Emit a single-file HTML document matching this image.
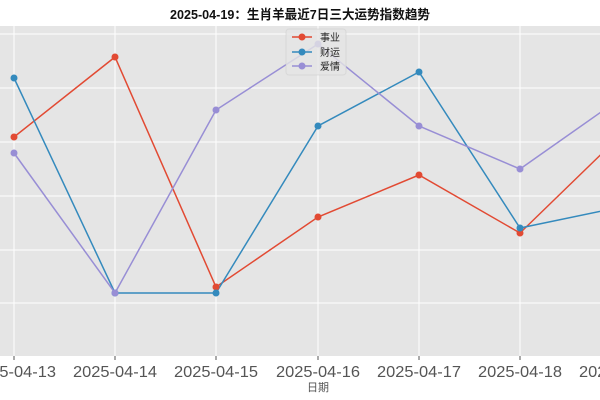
<!DOCTYPE html>
<html><head><meta charset="utf-8"><style>
html,body{margin:0;padding:0;background:#fff;width:600px;height:400px;overflow:hidden}
</style></head><body>
<svg width="600" height="400" viewBox="0 0 600 400" xmlns="http://www.w3.org/2000/svg" font-family="Liberation Sans, Noto Sans CJK SC, sans-serif">
<rect x="0" y="0" width="600" height="400" fill="#fff"/>
<rect x="0" y="26" width="600" height="330" fill="#e5e5e5"/>
<g stroke="#fff" stroke-width="1">
<line x1="0" x2="600" y1="34" y2="34"/><line x1="0" x2="600" y1="88" y2="88"/>
<line x1="0" x2="600" y1="142" y2="142"/><line x1="0" x2="600" y1="196" y2="196"/>
<line x1="0" x2="600" y1="250" y2="250"/><line x1="0" x2="600" y1="303" y2="303"/>
<line x1="14" x2="14" y1="26" y2="356"/><line x1="115" x2="115" y1="26" y2="356"/>
<line x1="216" x2="216" y1="26" y2="356"/><line x1="318" x2="318" y1="26" y2="356"/>
<line x1="419" x2="419" y1="26" y2="356"/><line x1="520" x2="520" y1="26" y2="356"/>
</g>
<g stroke="#555" stroke-width="1">
<line x1="14" x2="14" y1="356" y2="360"/><line x1="115" x2="115" y1="356" y2="360"/>
<line x1="216" x2="216" y1="356" y2="360"/><line x1="318" x2="318" y1="356" y2="360"/>
<line x1="419" x2="419" y1="356" y2="360"/><line x1="520" x2="520" y1="356" y2="360"/>
</g>
<g fill="none" stroke-width="1.5">
<polyline stroke="#E24A33" points="14,137 115,57 216,287 318,217 419,175 520,233 621,135"/>
<polyline stroke="#348ABD" points="14,78 115,293 216,293 318,126 419,72 520,228 621,207"/>
<polyline stroke="#988ED5" points="14,153 115,293 216,110 318,44 419,126 520,169 621,98"/>
</g>
<g fill="#E24A33"><circle cx="14" cy="137" r="3.5"/><circle cx="115" cy="57" r="3.5"/><circle cx="216" cy="287" r="3.5"/><circle cx="318" cy="217" r="3.5"/><circle cx="419" cy="175" r="3.5"/><circle cx="520" cy="233" r="3.5"/></g>
<g fill="#348ABD"><circle cx="14" cy="78" r="3.5"/><circle cx="115" cy="293" r="3.5"/><circle cx="216" cy="293" r="3.5"/><circle cx="318" cy="126" r="3.5"/><circle cx="419" cy="72" r="3.5"/><circle cx="520" cy="228" r="3.5"/></g>
<g fill="#988ED5"><circle cx="14" cy="153" r="3.5"/><circle cx="115" cy="293" r="3.5"/><circle cx="216" cy="110" r="3.5"/><circle cx="318" cy="44" r="3.5"/><circle cx="419" cy="126" r="3.5"/><circle cx="520" cy="169" r="3.5"/></g>
<rect x="286" y="29" width="60" height="46" rx="3" fill="#e5e5e5" fill-opacity="0.8" stroke="#ccc" stroke-opacity="0.5"/>
<g stroke-width="1.5">
<line x1="292" x2="312" y1="37" y2="37" stroke="#E24A33"/><circle cx="302" cy="37" r="3.5" fill="#E24A33"/>
<line x1="292" x2="312" y1="52" y2="52" stroke="#348ABD"/><circle cx="302" cy="52" r="3.5" fill="#348ABD"/>
<line x1="292" x2="312" y1="66" y2="66" stroke="#988ED5"/><circle cx="302" cy="66" r="3.5" fill="#988ED5"/>
</g>
<g font-size="10" fill="#222">
<text x="320" y="41">事业</text><text x="320" y="56">财运</text><text x="320" y="70">爱情</text>
</g>
<text x="300" y="19" text-anchor="middle" font-size="13" font-weight="bold" fill="#111" textLength="260" lengthAdjust="spacingAndGlyphs">2025-04-19：生肖羊最近7日三大运势指数趋势</text>
<g font-size="16" fill="#555" text-anchor="middle">
<text x="14" y="377" textLength="84" lengthAdjust="spacingAndGlyphs">2025-04-13</text><text x="115" y="377" textLength="84" lengthAdjust="spacingAndGlyphs">2025-04-14</text>
<text x="216" y="377" textLength="84" lengthAdjust="spacingAndGlyphs">2025-04-15</text><text x="318" y="377" textLength="84" lengthAdjust="spacingAndGlyphs">2025-04-16</text>
<text x="419" y="377" textLength="84" lengthAdjust="spacingAndGlyphs">2025-04-17</text><text x="520" y="377" textLength="84" lengthAdjust="spacingAndGlyphs">2025-04-18</text>
<text x="621" y="377" textLength="84" lengthAdjust="spacingAndGlyphs">2025-04-19</text>
</g>
<text x="318" y="391" text-anchor="middle" font-size="11" fill="#555">日期</text>
</svg>
</body></html>
